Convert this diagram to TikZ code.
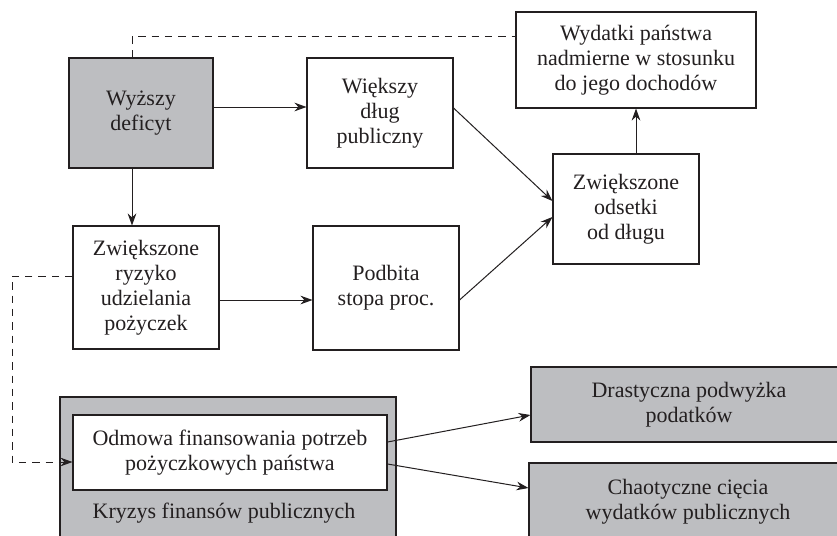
\documentclass[tikz,border=0pt]{standalone}
\usepackage{fontspec}
\setmainfont{Liberation Serif}
\usetikzlibrary{arrows.meta}
\definecolor{ink}{RGB}{35,31,32}
\definecolor{boxgray}{RGB}{189,190,193}
\begin{document}
\begin{tikzpicture}[x=0.75pt,y=-0.75pt,
  font=\fontsize{16.5}{18.75}\selectfont,
  sz/.style 2 args={minimum width=#1*0.75pt, minimum height=#2*0.75pt},
  box/.style={draw=ink, line width=0.8pt, fill=white, align=center, text=ink, inner sep=2pt},
  gbox/.style={box, fill=boxgray},
  arr/.style={draw=ink, line width=0.75pt, -{Stealth[length=9pt,width=6.5pt]}},
  dsh/.style={draw=ink, line width=0.75pt, dash pattern=on 5.5pt off 4.5pt}]
\useasboundingbox (0,0) rectangle (837,535);
\clip (0,0) rectangle (837,535);
\fill[white] (0,0) rectangle (837,535);

\node[gbox, sz={144}{110}] (wyz) at (141,113) {Wyższy\\deficyt};
\node[box, sz={146}{110}] (wie) at (380,113) {Większy\\dług\\publiczny};
\node[box, sz={240}{96}] (wyd) at (636,60) {Wydatki państwa\\nadmierne w stosunku\\do jego dochodów};
\node[box, sz={146}{110}] (ods) at (626,209) {Zwiększone\\odsetki\\od długu};
\node[box, sz={146}{123}] (ryz) at (146,287.5) {Zwiększone\\ryzyko\\udzielania\\pożyczek};
\node[box, sz={146}{124}] (pod) at (386,288) {Podbita\\stopa proc.};

\node[gbox, sz={336}{148}] (kry) at (228,471) {};
\node[box, sz={314}{75}] (odm) at (230,452.5) {Odmowa finansowania potrzeb\\pożyczkowych państwa};
\node[text=ink] (kryl) at (224,513) {Kryzys finansów publicznych};

\node[gbox, sz={316}{75}] (dra) at (689,404.5) {Drastyczna podwyżka\\podatków};
\node[gbox, sz={318}{77}] (cha) at (688,501.5) {Chaotyczne cięcia\\wydatków publicznych};

% solid arrows
\draw[arr] (wyz.east |- 0,107) -- (wie.west |- 0,107);
\draw[arr] (wyz.south -| 132,0) -- (ryz.north -| 132,0);
\draw[arr] (ryz.east |- 0,300) -- (pod.west |- 0,300);
\draw[arr] (wie.east |- 0,108) -- (ods.west |- 0,201);
\draw[arr] (pod.east |- 0,300) -- (ods.west |- 0,217);
\draw[arr] (ods.north -| 636,0) -- (wyd.south -| 636,0);
\draw[arr] (odm.east |- 0,442) -- (dra.west |- 0,415);
\draw[arr] (odm.east |- 0,464) -- (cha.west |- 0,488);

% dashed connectors
\draw[dsh] (wyz.north -| 132,0) |- (wyd.west |- 0,37);
\draw[dsh, -{Stealth[length=9pt,width=6.5pt]}] (ryz.west |- 0,276) -| (12,462) -- (odm.west |- 0,462);
\end{tikzpicture}
\end{document}
